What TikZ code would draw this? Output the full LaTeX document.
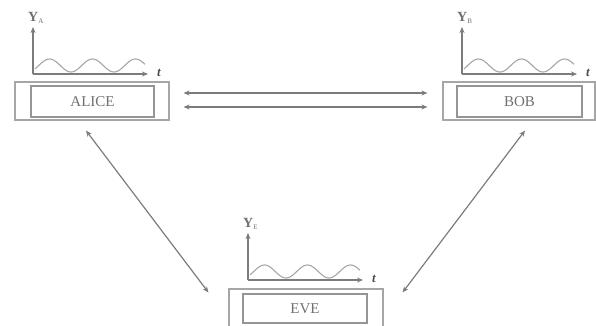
\documentclass[tikz,border=0pt]{standalone}
\usepackage{fontspec}
\setmainfont{Liberation Serif}
\usetikzlibrary{arrows.meta,calc}
\definecolor{ink}{HTML}{7C7C7C}
\definecolor{frame}{HTML}{A6A6A6}
\definecolor{txt}{HTML}{707070}
\tikzset{
  outerbox/.style={draw=frame, line width=1.1pt, rectangle, inner sep=0pt},
  innerbox/.style={draw=frame!90!black, line width=1.1pt, rectangle, inner sep=0pt,
    text=txt, font=\fontsize{15}{17}\selectfont},
  axis/.style={draw=ink, line width=1.3pt, -{Stealth[length=6pt,width=5pt]}},
  wave/.style={draw=frame, line width=1.1pt},
  link/.style={draw=ink, line width=1.2pt,
    {Stealth[length=6pt,width=5pt]}-{Stealth[length=6pt,width=5pt]}},
  ylab/.style={text=txt, inner sep=0pt, font=\fontsize{14}{16}\selectfont},
  tlab/.style={text=black!70, inner sep=0pt, font=\fontsize{13}{15}\selectfont\itshape\bfseries}
}
% signal plot above a station: name prefix, origin, subscript
% (period 43pt: 360/43 = 8.372 degrees per pt)
\newcommand{\signalplot}[3]{%
  \begin{scope}[shift={(#2)}]
    \coordinate (#1o) at (0,0);
    \coordinate (#1t) at (115,0);
    \coordinate (#1y) at (0,-47);
    \draw[axis] (#1o) -- (#1t);
    \draw[axis] (#1o) -- (#1y);
    \draw[wave] plot[domain=2:112, samples=90]
      (\x, {-8.5-6.5*cos(8.372*(\x-16.5))});
    \node[ylab, anchor=south west] (#1Y) at (-5,-50) {$\mathbf{Y}_{\scriptscriptstyle\mathrm{#3}}$};
    \node[tlab] (#1tl) at (126,-1) {t};
  \end{scope}
}
\begin{document}
\begin{tikzpicture}[x=1pt, y=-1pt]
  \useasboundingbox (0,0) rectangle (596,325);

  % stations
  \node[outerbox, minimum width=154pt, minimum height=38pt] (alice) at (92,101) {};
  \node[innerbox, minimum width=123pt, minimum height=31pt] (aliceIn) at (92.5,101.5) {ALICE};
  \node[outerbox, minimum width=152pt, minimum height=38pt] (bob) at (519,101) {};
  \node[innerbox, minimum width=125pt, minimum height=31pt] (bobIn) at (519.5,101.5) {BOB};
  \node[outerbox, minimum width=154pt, minimum height=42pt] (eve) at (306,310) {};
  \node[innerbox, minimum width=124pt, minimum height=29pt] (eveIn) at (305,308.5) {EVE};

  % signals
  \signalplot{a}{33,74}{A}
  \signalplot{b}{462,74}{B}
  \signalplot{e}{248,280}{E}

  % channels between Alice and Bob
  \coordinate (ab1) at ($(alice.east)+(14,-8)$);
  \coordinate (ba1) at ($(bob.west)+(-15,-8)$);
  \coordinate (ab2) at ($(alice.east)+(14,6)$);
  \coordinate (ba2) at ($(bob.west)+(-15,6)$);
  \draw[link] (ab1) -- (ba1);
  \draw[link] (ab2) -- (ba2);

  % eavesdropper links
  \coordinate (ae) at ($(alice.south)+(-6,10)$);
  \coordinate (ea) at ($(eve.north west)+(-20,4)$);
  \coordinate (be) at ($(bob.south)+(6,10)$);
  \coordinate (eb) at ($(eve.north east)+(19,4)$);
  \draw[link] (ae) -- (ea);
  \draw[link] (be) -- (eb);
\end{tikzpicture}
\end{document}
